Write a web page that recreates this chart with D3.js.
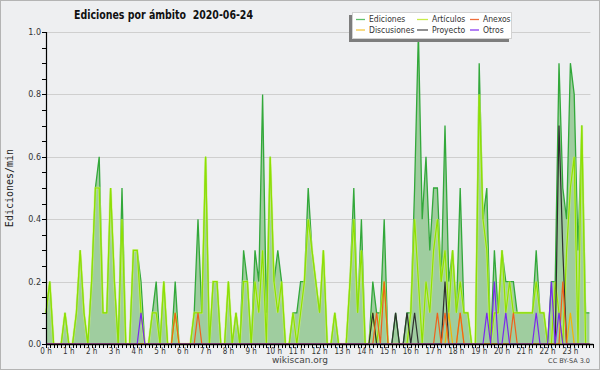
<!DOCTYPE html>
<html>
<head>
<meta charset="utf-8">
<script src="https://cdn.jsdelivr.net/npm/d3@7"></script>
<style>
body { margin: 0; background: #fff; }
svg { display: block; font-family: "DejaVu Sans", sans-serif; }
</style>
</head>
<body>
<svg id="chart" width="600" height="370"></svg>
<script>

// 10 minute buckets, values in edits per minute
var ediciones = [
  0.1,0.2,0,0,0,0.1,0,0,0.1,0.3,0.1,0,
  0.2,0.5,0.6,0.1,0.1,0.5,0.2,0,0.5,0,0,0.3,
  0.3,0.2,0,0,0.1,0.2,0,0.2,0,0,0.2,0,
  0,0,0,0.1,0.4,0.1,0.6,0,0.2,0.2,0,0,
  0.2,0,0.1,0,0.3,0.2,0,0.3,0.2,0.8,0.1,0.6,
  0.2,0.3,0.2,0,0,0.1,0.1,0.2,0.2,0.5,0.3,0.2,
  0.1,0.3,0,0,0.1,0,0,0,0.2,0.5,0.1,0.4,
  0,0,0.2,0.1,0.1,0.4,0,0,0.1,0,0,0.1,
  0.1,0.5,1.0,0.4,0.6,0.3,0.5,0.5,0.2,0.7,0.2,0.3,
  0.1,0.5,0.1,0.1,0,0,0.9,0.4,0.5,0,0.3,0.1,
  0.3,0.2,0.2,0.2,0.1,0.1,0.1,0.1,0.1,0.3,0.1,0.1,
  0,0.2,0.2,0.9,0.5,0.4,0.9,0.8,0.3,0.7,0.1,0.1
];
var articulos = [
  0.1,0.2,0,0,0,0.1,0,0,0.1,0.3,0.1,0,
  0.2,0.5,0.5,0.1,0.1,0.5,0.2,0,0.4,0,0,0.3,
  0.3,0.1,0,0,0.1,0.1,0,0.2,0,0,0.1,0,
  0,0,0,0.1,0.1,0.1,0.6,0,0.2,0.2,0,0,
  0.2,0,0.1,0,0.2,0.2,0,0.2,0.1,0.3,0,0.6,
  0.2,0.1,0.2,0,0,0.1,0,0.1,0.2,0.4,0.3,0.2,
  0.1,0.3,0,0,0.1,0,0,0,0.2,0.4,0.1,0.3,
  0,0,0.1,0,0.1,0.2,0,0,0,0,0,0,
  0.1,0.4,0.2,0,0.2,0.1,0.3,0.4,0.2,0.3,0.1,0.3,
  0.1,0.2,0.1,0.1,0,0,0.8,0.4,0.3,0,0.1,0.1,
  0.3,0.1,0.2,0.1,0.1,0.1,0.1,0.1,0.1,0.2,0.1,0.1,
  0,0,0.2,0.1,0,0.3,0.5,0.6,0,0.7,0,0
];
var anexos = [
  0,0,0,0,0,0,0,0,0,0,0,0,
  0,0,0,0,0,0,0,0,0,0,0,0,
  0,0,0,0,0,0,0,0,0,0,0.1,0,
  0,0,0,0,0.1,0,0,0,0,0,0,0,
  0,0,0,0,0,0,0,0,0,0,0,0,
  0,0,0,0,0,0,0,0,0,0,0,0,
  0,0,0,0,0,0,0,0,0,0,0,0,
  0,0,0,0.1,0,0.2,0,0,0,0,0,0,
  0,0,0,0,0,0,0,0.1,0,0.1,0,0,
  0,0.1,0,0,0,0,0,0,0,0,0,0,
  0,0,0,0.1,0,0,0,0,0,0,0,0,
  0,0,0,0,0.2,0,0,0,0,0,0,0
];
var proyecto = [
  0,0,0,0,0,0,0,0,0,0,0,0,
  0,0,0,0,0,0,0,0,0,0,0,0,
  0,0,0,0,0,0,0,0,0,0,0,0,
  0,0,0,0,0,0,0,0,0,0,0,0,
  0,0,0,0,0,0,0,0,0,0,0,0,
  0,0,0,0,0,0,0,0,0,0,0,0,
  0,0,0,0,0,0,0,0,0,0,0,0,
  0,0,0.1,0,0,0,0,0,0.1,0,0,0.1,
  0,0.1,0,0,0,0,0,0,0,0.2,0,0,
  0,0,0,0,0,0,0,0,0,0,0,0,
  0,0,0,0,0,0,0,0,0,0,0,0,
  0,0,0,0.7,0.3,0,0,0,0,0,0,0
];
var otros = [
  0,0,0,0,0,0,0,0,0,0,0,0,
  0,0,0,0,0,0,0,0,0,0,0,0,
  0,0.1,0,0,0,0,0,0,0,0,0,0,
  0,0,0,0,0,0,0,0,0,0,0,0,
  0,0,0,0,0,0,0,0,0,0,0,0,
  0,0,0,0,0,0,0,0,0,0,0,0,
  0,0,0,0,0,0,0,0,0,0,0,0,
  0,0,0,0,0,0,0,0,0,0,0,0,
  0,0,0,0,0,0,0,0,0,0,0,0,
  0,0,0,0,0,0,0,0,0.1,0,0.2,0,
  0,0.1,0,0,0,0,0,0,0,0.1,0,0,
  0,0.2,0,0.1,0,0,0,0,0,0,0,0
];
var discusiones = [
  0,0,0,0,0,0,0,0,0,0,0,0,
  0,0,0,0,0,0,0,0,0,0,0,0,
  0,0,0,0,0,0,0,0,0,0,0,0,
  0,0,0,0,0,0,0,0,0,0,0,0,
  0,0,0,0,0,0,0,0,0,0,0,0,
  0,0,0,0,0,0,0,0,0,0,0,0,
  0,0,0,0,0,0,0,0,0,0,0,0,
  0,0,0,0,0,0,0,0,0,0,0,0,
  0,0,0,0,0,0,0,0,0,0,0.1,0,
  0,0.1,0,0,0,0,0,0,0,0,0,0,
  0,0,0,0,0,0,0,0,0,0,0,0,
  0,0,0,0,0,0,0.1,0,0,0,0,0
];
var hourLabels = d3.range(24).map(function(h) { return h + ' h'; });
var yTicks = [0, 0.2, 0.4, 0.6, 0.8, 1.0];

var legendItems = [
  {name: 'Ediciones', color: '#5fc06a'},
  {name: 'Artículos', color: '#c8ec4a'},
  {name: 'Anexos', color: '#ee6e3c'},
  {name: 'Discusiones', color: '#f5c842'},
  {name: 'Proyecto', color: '#555555'},
  {name: 'Otros', color: '#8a3cf0'}
];

var svg = d3.select('#chart');
var plotL = 46, plotR = 589.4, plotT = 32, plotB = 344;

var x = d3.scaleLinear().domain([0, ediciones.length - 1]).range([plotL, plotR]);
var y = d3.scaleLinear().domain([0, 1]).range([plotB, plotT]);

svg.append('rect').attr('x', 0.5).attr('y', 0.5).attr('width', 599).attr('height', 369)
  .style('fill', '#eeeff1').style('stroke', '#b4b4b4');

// grid
svg.append('g').selectAll('line').data(yTicks.slice(1)).enter().append('line')
  .attr('x1', plotL).attr('x2', plotR + 1)
  .attr('y1', function(d) { return Math.round(y(d)) + 0.5; })
  .attr('y2', function(d) { return Math.round(y(d)) + 0.5; })
  .style('stroke', '#cfcfcf').style('stroke-width', 1);

var line = function(arr) {
  return d3.line().x(function(d, i) { return x(i); }).y(function(d) { return y(d); })(arr);
};

svg.append('path')
  .attr('d', d3.area().x(function(d, i) { return x(i); }).y0(plotB).y1(function(d) { return y(d); })(ediciones))
  .style('fill', '#9fcd9f');

svg.append('path').attr('d', line(ediciones))
  .style('fill', 'none').style('stroke', '#32a83a').style('stroke-width', 1.3);

svg.append('path').attr('d', line(articulos))
  .style('fill', 'none').style('stroke', '#d4f870').style('stroke-width', 2.6).style('opacity', 0.6);
svg.append('path').attr('d', line(articulos))
  .style('fill', 'none').style('stroke', '#8ee000').style('stroke-width', 1.2);

[
  {data: discusiones, color: '#f5b400'},
  {data: proyecto, color: '#2e2e2e'},
  {data: anexos, color: '#f0601a'},
  {data: otros, color: '#7a28ee'}
].forEach(function(s) {
  svg.append('path').attr('d', line(s.data))
    .style('fill', 'none').style('stroke', s.color).style('stroke-width', 1.2);
});

// y axis
var yAxis = svg.append('g').style('font-size', '8px').style('fill', '#333');
yAxis.selectAll('line.minor').data(d3.range(0, 1.0001, 0.05)).enter().append('line')
  .attr('x1', plotL - 4).attr('x2', plotL)
  .attr('y1', function(d) { return Math.round(y(d)) + 0.5; })
  .attr('y2', function(d) { return Math.round(y(d)) + 0.5; })
  .style('stroke', '#000');
yAxis.selectAll('text').data(yTicks).enter().append('text')
  .attr('x', plotL - 5).attr('y', function(d) { return y(d) + 3; })
  .attr('text-anchor', 'end')
  .text(function(d) { return d.toFixed(1); });
yAxis.append('line').attr('x1', plotL + 0.5).attr('x2', plotL + 0.5).attr('y1', plotT).attr('y2', plotB + 1)
  .style('stroke', '#000').style('stroke-width', 1.2);

svg.append('text')
  .attr('transform', 'translate(13,188) rotate(-90)')
  .attr('text-anchor', 'middle')
  .style('font-family', '"DejaVu Sans Mono", monospace').style('font-size', '10px').style('fill', '#222')
  .text('Ediciones/min');

// x axis
var xAxis = svg.append('g');
xAxis.selectAll('line').data(d3.range(ediciones.length + 1)).enter().append('line')
  .attr('x1', function(d) { return Math.round(x(d)) + 0.5; })
  .attr('x2', function(d) { return Math.round(x(d)) + 0.5; })
  .attr('y1', plotB).attr('y2', plotB + 4)
  .style('stroke', '#000');
xAxis.append('line').attr('x1', plotL).attr('x2', x(ediciones.length)).attr('y1', plotB + 0.5).attr('y2', plotB + 0.5)
  .style('stroke', '#000').style('stroke-width', 1.6);
xAxis.selectAll('text').data(hourLabels).enter().append('text')
  .attr('x', function(d, i) { return x(i * 6); })
  .attr('y', plotB + 10)
  .attr('text-anchor', 'middle')
  .style('font-family', '"DejaVu Sans Condensed", "DejaVu Sans", sans-serif')
  .style('font-size', '8px').style('fill', '#333')
  .text(function(d) { return d; });

svg.append('text').attr('x', 300).attr('y', 363).attr('text-anchor', 'middle')
  .style('font-size', '9px').style('fill', '#444').text('wikiscan.org');
svg.append('text').attr('x', 590).attr('y', 363).attr('text-anchor', 'end')
  .style('font-size', '6.5px').style('fill', '#444').text('CC BY-SA 3.0');

// title (two spaces before the date)
svg.append('text').attr('x', 74).attr('y', 19)
  .style('white-space', 'pre')
  .style('font-family', '"DejaVu Sans Condensed", "DejaVu Sans", sans-serif')
  .style('font-weight', 'bold').style('font-size', '11.5px').style('fill', '#111')
  .attr('textLength', 179).attr('lengthAdjust', 'spacingAndGlyphs')
  .text('Ediciones por ámbito  2020-06-24');

// legend
svg.append('rect').attr('x', 349).attr('y', 15).attr('width', 160).attr('height', 27).style('fill', '#7d7d7d');
svg.append('rect').attr('x', 352.5).attr('y', 12.5).attr('width', 159).attr('height', 26)
  .style('fill', '#fff').style('stroke', '#d2d2d2');

var cols = [356, 417, 470];
var lg = svg.append('g').selectAll('g').data(legendItems).enter().append('g')
  .attr('transform', function(d, i) {
    var col = i % 3, row = i < 3 ? 0 : 1;
    return 'translate(' + cols[col] + ',' + (19 + row * 10.5) + ')';
  });
lg.append('line').attr('x1', 0).attr('x2', function(d, i) { return [9, 11, 9][i % 3]; })
  .attr('y1', 0.5).attr('y2', 0.5)
  .style('stroke', function(d) { return d.color; }).style('stroke-width', 1.3);
lg.append('text').attr('x', function(d, i) { return [13, 15, 13][i % 3]; }).attr('y', 3)
  .style('font-family', '"DejaVu Sans Condensed", "DejaVu Sans", sans-serif')
  .style('font-size', '8.5px').style('fill', '#333')
  .text(function(d) { return d.name; });

</script>
</body>
</html>
